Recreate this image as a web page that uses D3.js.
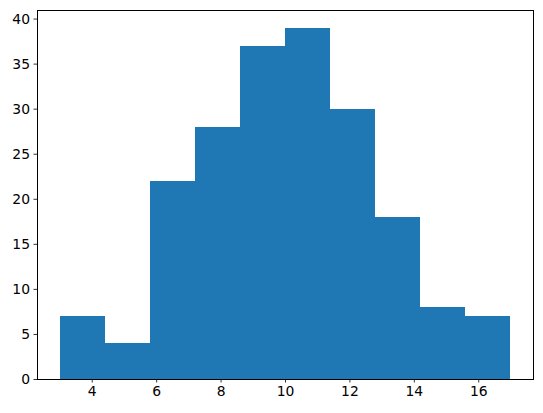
<!DOCTYPE html>
<html>
<head>
<meta charset="utf-8">
<script src="https://cdn.jsdelivr.net/npm/d3@7"></script>
<style>
  body { margin: 0; background: #fff; }
  text { font-family: "DejaVu Sans", sans-serif; }
</style>
</head>
<body>
<div class="canvas"></div>
<script>
// histogram bins (edges) and counts
const binEdges = [3, 4.4, 5.8, 7.2, 8.6, 10, 11.4, 12.8, 14.2, 15.6, 17];
const counts = [7, 4, 22, 28, 37, 39, 30, 18, 8, 7];
const xTicks = [4, 6, 8, 10, 12, 14, 16];
const yTicks = [0, 5, 10, 15, 20, 25, 30, 35, 40];

const width = 543, height = 413;
const margin = { top: 10, right: 10, bottom: 34, left: 37 };
const graphWidth = width - margin.left - margin.right;
const graphHeight = height - margin.top - margin.bottom;

const svg = d3.select('.canvas')
    .append('svg')
    .attr('width', width)
    .attr('height', height);

const graph = svg.append('g')
    .attr('transform', `translate(${margin.left}, ${margin.top})`);

// scales with matplotlib-style 5% margins
const xMin = binEdges[0], xMax = binEdges[binEdges.length - 1];
const xPad = (xMax - xMin) * 0.05;
const x = d3.scaleLinear()
    .domain([xMin - xPad, xMax + xPad])
    .range([0, graphWidth]);

const yMax = d3.max(counts) * 1.05;
const y = d3.scaleLinear()
    .domain([0, yMax])
    .range([graphHeight, 0]);

const bins = counts.map((c, i) => ({ x0: binEdges[i], x1: binEdges[i + 1], count: c }));

graph.selectAll('rect')
    .data(bins)
    .enter()
    .append('rect')
    .attr('x', d => x(d.x0))
    .attr('width', d => x(d.x1) - x(d.x0))
    .attr('y', d => y(d.count))
    .attr('height', d => graphHeight - y(d.count))
    .attr('fill', '#1f77b4')
    .attr('shape-rendering', 'crispEdges');

// axes
const xAxis = d3.axisBottom(x).tickValues(xTicks).tickSize(3.5).tickPadding(3.5).tickFormat(d3.format('d'));
const yAxis = d3.axisLeft(y).tickValues(yTicks).tickSize(3.5).tickPadding(3.5).tickFormat(d3.format('d'));

const xAxisGroup = graph.append('g')
    .attr('transform', `translate(0, ${graphHeight})`)
    .call(xAxis);
const yAxisGroup = graph.append('g').call(yAxis);

[xAxisGroup, yAxisGroup].forEach(g => {
    g.select('.domain').remove();
    g.selectAll('line').attr('stroke', '#000').attr('stroke-width', 0.8);
    g.selectAll('text').attr('fill', '#000').style('font-size', '13.9px').style('font-family', '"DejaVu Sans", sans-serif');
});

// frame
graph.append('rect')
    .attr('x', 0)
    .attr('y', 0)
    .attr('width', graphWidth)
    .attr('height', graphHeight)
    .attr('fill', 'none')
    .attr('stroke', '#000')
    .attr('stroke-width', 1)
    .attr('shape-rendering', 'crispEdges');
</script>
</body>
</html>
